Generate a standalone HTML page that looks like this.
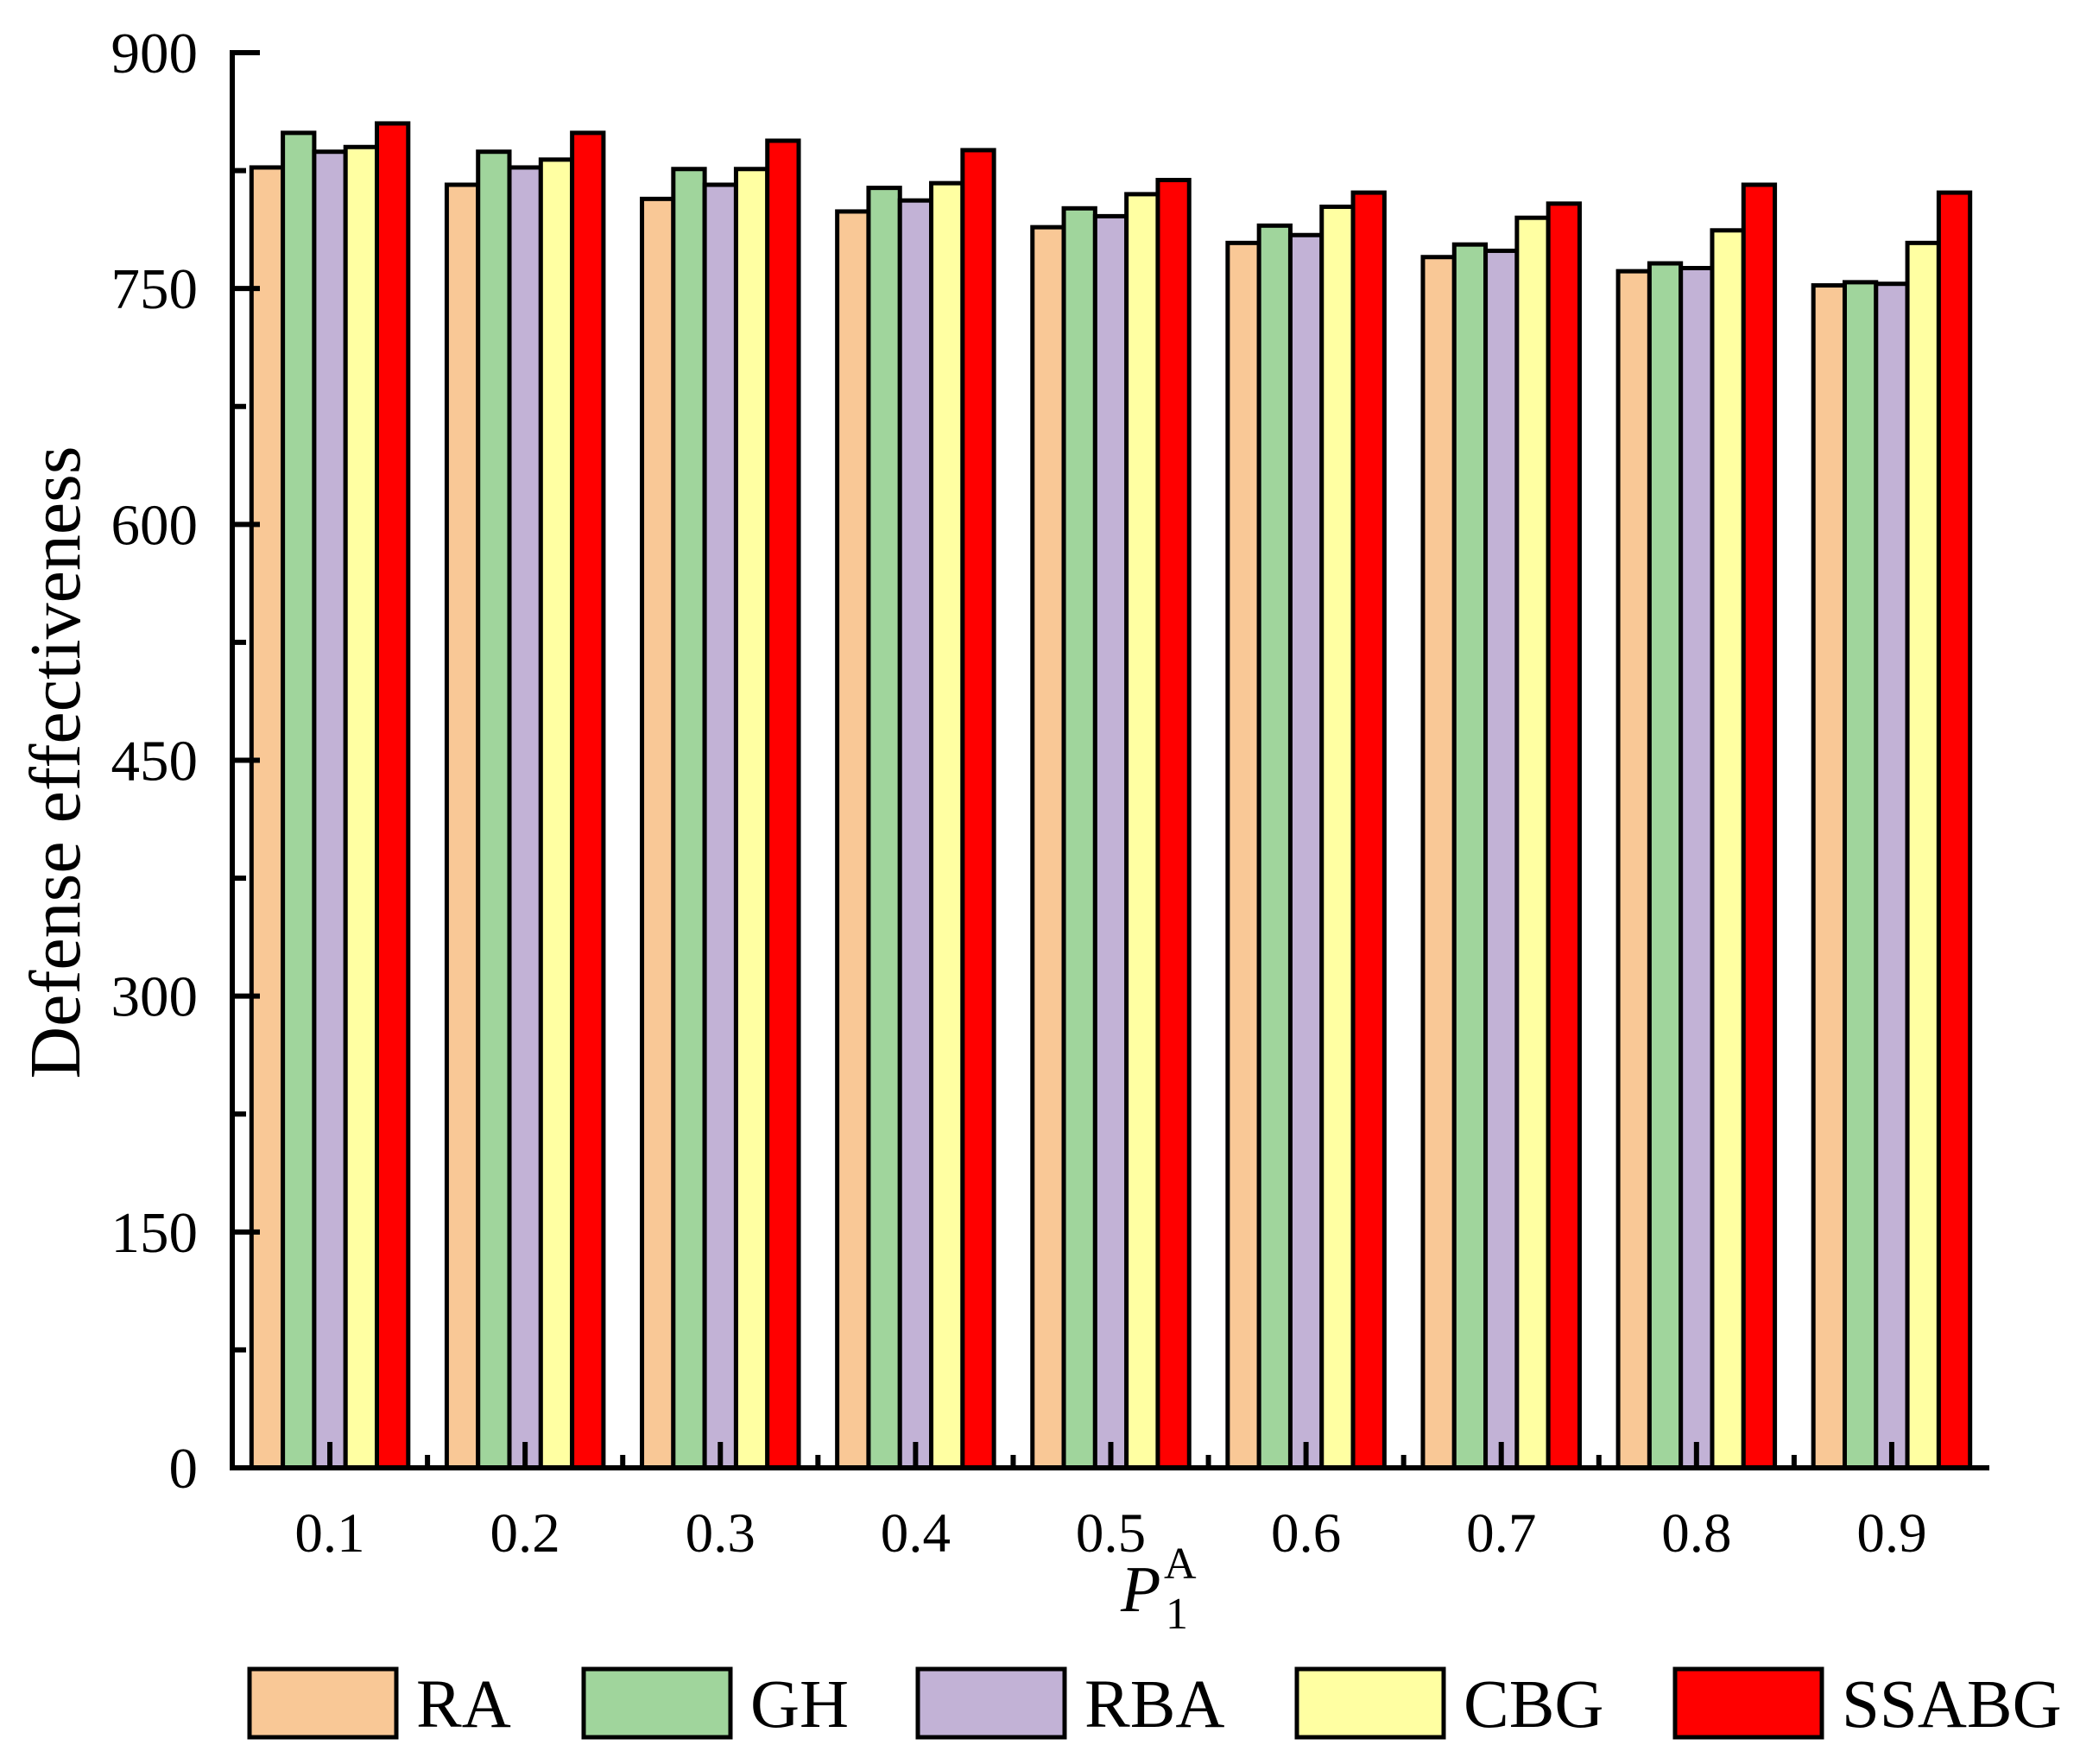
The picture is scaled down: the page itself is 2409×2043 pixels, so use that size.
<!DOCTYPE html>
<html><head><meta charset="utf-8"><style>
html,body{margin:0;padding:0;background:#fff;}
svg{display:block;font-family:"Liberation Serif",serif;}
</style></head><body>
<svg id="chart" width="2409" height="2043" viewBox="0 0 2409 2043" xmlns="http://www.w3.org/2000/svg">
<g id="bars"></g>
<g id="axes"></g>
<g id="legend"></g>
</svg>
<script>
const categories = ["0.1","0.2","0.3","0.4","0.5","0.6","0.7","0.8","0.9"];
const seriesNames = ["RA","GH","RBA","CBG","SSABG"];
const seriesColors = ["#F9C896","#A0D59C","#C2B2D6","#FFFFA2","#FF0000"];
const raValues = [827,816,807,799,789,779,770,761,752];
const ghValues = [849,837,826,814,801,790,778,766,754];
const rbaValues = [837,827,816,806,796,784,774,763,753];
const cbgValues = [840,832,826,817,810,802,795,787,779];
const ssabgValues = [855,849,844,838,819,811,804,816,811];
const yTicks = [0,150,300,450,600,750,900];
const seriesValues = [raValues,ghValues,rbaValues,cbgValues,ssabgValues];

const NS="http://www.w3.org/2000/svg";
const L=269,R=2304,T=61,B=1700,yMax=900;
const gw=(R-L)/categories.length, bw=36.3;
function y(v){return B-(v/yMax)*(B-T);}
function xc(i){return L+(i+0.5)*gw;}
function mk(tag,attrs,parent){const e=document.createElementNS(NS,tag);for(const k in attrs)e.setAttribute(k,attrs[k]);parent.appendChild(e);return e;}
const bars=document.getElementById('bars'),axes=document.getElementById('axes'),legend=document.getElementById('legend');

categories.forEach((c,i)=>{
  seriesValues.forEach((vals,s)=>{
    const x0=xc(i)-2.5*bw+s*bw;
    const r=mk('rect',{x:x0,y:y(vals[i]),width:bw,height:B-y(vals[i]),fill:seriesColors[s],stroke:'#000','stroke-width':5},bars);
    
    
  });
});

let a=mk('line',{x1:L,y1:T-3,x2:L,y2:B+3,stroke:'#000','stroke-width':6},axes);

a=mk('line',{x1:L-3,y1:B,x2:R,y2:B,stroke:'#000','stroke-width':6},axes);


yTicks.forEach((v,k)=>{
  let t=mk('line',{x1:L,y1:y(v),x2:L+32,y2:y(v),stroke:'#000','stroke-width':6},axes);
  
  const lb=mk('text',{x:L-40,y:y(v)+23,'text-anchor':'end','font-size':67},axes);
  lb.textContent=v;
  
  if(k<yTicks.length-1){
    const m=(v+yTicks[k+1])/2;
    t=mk('line',{x1:L,y1:y(m),x2:L+16,y2:y(m),stroke:'#000','stroke-width':6},axes);
    
  }
});
categories.forEach((c,i)=>{
  let t=mk('line',{x1:xc(i),y1:B,x2:xc(i),y2:B-30,stroke:'#000','stroke-width':6},axes);
  
  if(i>0){t=mk('line',{x1:L+i*gw,y1:B,x2:L+i*gw,y2:B-15,stroke:'#000','stroke-width':6},axes);
  }
  const lb=mk('text',{x:xc(i),y:1797,'text-anchor':'middle','font-size':65},axes);
  lb.textContent=c;
  
});
let yt=mk('text',{x:0,y:0,'text-anchor':'middle','font-size':84,transform:'translate(92,883) rotate(-90)'},axes);
yt.textContent='Defense effectiveness';

let xt=mk('text',{x:1298,y:1866,'font-size':76,'font-style':'italic'},axes);
xt.textContent='P';

let s1=mk('text',{x:1350,y:1886,'font-size':52},axes);s1.textContent='1';

let s2=mk('text',{x:1348,y:1828,'font-size':52},axes);s2.textContent='A';


const lx=[289,676,1063,1502,1940];
seriesNames.forEach((n,s)=>{
  const r=mk('rect',{x:lx[s],y:1933,width:170,height:79,fill:seriesColors[s],stroke:'#000','stroke-width':5},legend);
  
  const t=mk('text',{x:lx[s]+193,y:2000,'font-size':79},legend);
  t.textContent=n;
  
});
</script>
</body></html>
